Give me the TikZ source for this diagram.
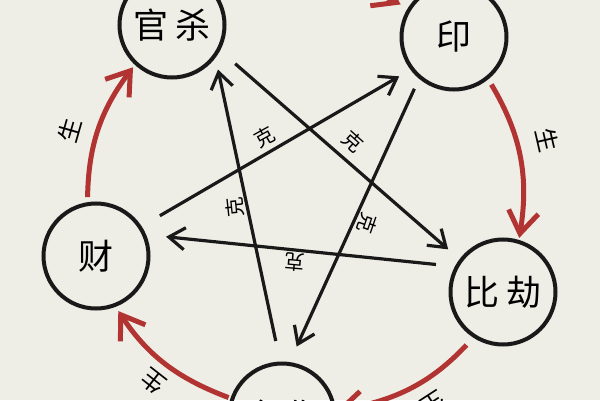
\documentclass[tikz,border=0pt]{standalone}
\usepackage{fontspec}
\newfontfamily\cjk{Noto Sans CJK SC}
\usetikzlibrary{arrows.meta}
\definecolor{bgpaper}{RGB}{238,238,230}
\definecolor{shengred}{RGB}{178,52,50}
\definecolor{keblack}{RGB}{25,25,25}
\begin{document}
\begin{tikzpicture}[x=1pt,y=1pt,
	shishen/.style={circle,draw=keblack,line width=4pt,minimum size=105pt,inner sep=0pt,font=\cjk\fontsize{35}{35}\selectfont},
	sheng/.style={draw=shengred,line width=5pt,-{Straight Barb[length=22pt,width=30pt]}},
	ke/.style={draw=keblack,line width=3.2pt,-{Straight Barb[length=16pt,width=22pt]}},
	shenglabel/.style={font=\cjk\fontsize{24}{24}\selectfont,inner sep=0pt},
	kelabel/.style={font=\cjk\fontsize{20}{20}\selectfont,inner sep=0pt}]
				\useasboundingbox (0,0) rectangle (600,400);
				\fill[bgpaper] (0,0) rectangle (600,400);
				\clip (0,0) rectangle (600,400);

				% Circles
				\node[shishen] (gs) at (172,375) {官 杀};
				\node[shishen] (yin) at (454,363) {印};
				\node[shishen] (bj) at (503,108) {比 劫};
				\node[shishen] (ss) at (282,-16) {食 伤};
				\node[shishen] (cai) at (96,144) {财};

				% Sheng
				\draw[sheng,shorten <=5pt,shorten >=3pt] (cai.99) to[bend left=18] (gs.227);
				\draw[sheng,shorten >=8pt] (gs.30) to[bend left=24] (yin.148);
				\draw[sheng,shorten <=6pt,shorten >=2pt] (yin.-51) to[bend left=20] (bj.73);
				\draw[sheng,shorten <=10pt] (bj.237) to[bend left=19] (ss.6);
				\draw[sheng,shorten <=2pt,shorten >=5pt] (ss.161) to[bend left=18] (cai.-69);
				\node[shenglabel,rotate=74] (s1) at (70,270) {生};
				\node[shenglabel,rotate=-77] (s2) at (547,260) {生};
				\node[shenglabel,rotate=142] (s3) at (153,18) {生};
				\node[shenglabel,rotate=-147] (s4) at (434,-4) {生};

				% Ke
				\draw[ke,shorten <=20pt,shorten >=15pt] (gs.-28) -- (bj.143);
				\draw[ke,shorten <=19pt,shorten >=20pt] (bj.152) -- (cai.23);
				\draw[ke,shorten <=21pt,shorten >=13pt] (cai.33) -- (yin.217);
				\draw[ke,shorten <=11pt,shorten >=17pt] (yin.230) -- (ss.82);
				\draw[ke,shorten <=21pt,shorten >=12pt] (ss.92) -- (gs.-37);
				\node[kelabel,rotate=29] (k1) at (265,263) {克};
				\node[kelabel,rotate=-42] (k2) at (353,258) {克};
				\node[kelabel,rotate=-109] (k3) at (367,177) {克};
				\node[kelabel,rotate=175] (k4) at (295,138) {克};
				\node[kelabel,rotate=96] (k5) at (235,193) {克};
\end{tikzpicture}
\end{document}
